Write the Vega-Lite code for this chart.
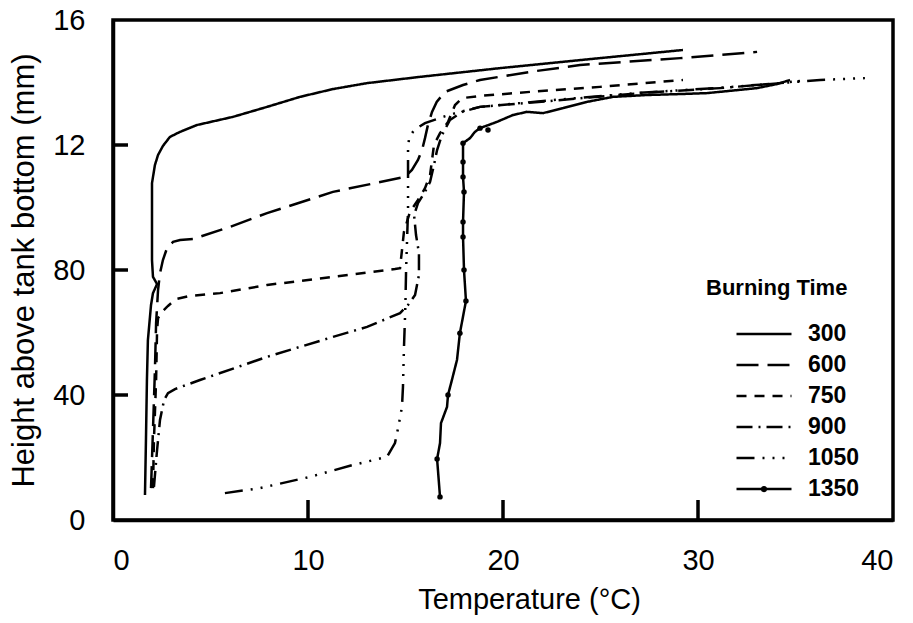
{
  "$schema": "https://vega.github.io/schema/vega-lite/v6.json",
  "width": 780,
  "height": 500,
  "autosize": "none",
  "padding": {"left": 113, "top": 20, "right": 20, "bottom": 103},
  "background": "white",
  "config": {
    "view": {"stroke": "black", "strokeWidth": 3.5},
    "font": "Liberation Sans",
    "axis": {
      "grid": false,
      "ticks": false,
      "domainColor": "black",
      "domainWidth": 3.5,
      "labelColor": "black",
      "titleColor": "black",
      "labelFont": "Liberation Sans",
      "titleFont": "Liberation Sans",
      "labelFontSize": 29,
      "titleFontSize": 29,
      "titleFontWeight": "normal"
    }
  },
  "datasets": {
    "curves": [
      {"time":"300","temp":1.64,"height":8.0},{"time":"300","temp":1.69,"height":25.6},{"time":"300","temp":1.74,"height":44.8},{"time":"300","temp":1.79,"height":57.6},{"time":"300","temp":1.95,"height":68.8},{"time":"300","temp":2.05,"height":72.6},{"time":"300","temp":2.26,"height":75.5},{"time":"300","temp":2.05,"height":77.8},{"time":"300","temp":2.0,"height":83.2},{"time":"300","temp":2.0,"height":96.0},{"time":"300","temp":2.0,"height":107.8},{"time":"300","temp":2.15,"height":113.6},{"time":"300","temp":2.31,"height":116.8},{"time":"300","temp":2.56,"height":119.7},{"time":"300","temp":2.92,"height":122.6},{"time":"300","temp":3.44,"height":124.2},{"time":"300","temp":4.31,"height":126.4},{"time":"300","temp":6.15,"height":129.0},{"time":"300","temp":7.9,"height":132.2},{"time":"300","temp":9.59,"height":135.4},{"time":"300","temp":11.28,"height":137.9},{"time":"300","temp":13.03,"height":139.8},{"time":"300","temp":15.74,"height":141.8},{"time":"300","temp":19.85,"height":144.6},{"time":"300","temp":24.97,"height":147.8},{"time":"300","temp":29.23,"height":150.4},
      {"time":"600","temp":1.95,"height":10.2},{"time":"600","temp":2.05,"height":28.8},{"time":"600","temp":2.15,"height":48},{"time":"600","temp":2.21,"height":63},{"time":"600","temp":2.31,"height":73.6},{"time":"600","temp":2.41,"height":79},{"time":"600","temp":2.56,"height":83.2},{"time":"600","temp":2.77,"height":87},{"time":"600","temp":3.08,"height":89},{"time":"600","temp":3.44,"height":89.6},{"time":"600","temp":4.1,"height":89.9},{"time":"600","temp":6.0,"height":93.8},{"time":"600","temp":7.9,"height":98.2},{"time":"600","temp":11.28,"height":105},{"time":"600","temp":14.97,"height":109.8},{"time":"600","temp":15.33,"height":112},{"time":"600","temp":15.64,"height":115.2},{"time":"600","temp":15.85,"height":118.4},{"time":"600","temp":16.0,"height":122.2},{"time":"600","temp":16.15,"height":126.4},{"time":"600","temp":16.36,"height":130.6},{"time":"600","temp":16.6,"height":133.8},{"time":"600","temp":17.03,"height":137},{"time":"600","temp":17.95,"height":139.2},{"time":"600","temp":18.82,"height":140.8},{"time":"600","temp":21.38,"height":143.4},{"time":"600","temp":23.95,"height":145.6},{"time":"600","temp":29.08,"height":147.8},{"time":"600","temp":33.03,"height":149.8},
      {"time":"750","temp":2.05,"height":10.2},{"time":"750","temp":2.1,"height":25.6},{"time":"750","temp":2.21,"height":44.8},{"time":"750","temp":2.26,"height":60.8},{"time":"750","temp":2.31,"height":64.6},{"time":"750","temp":2.51,"height":66.6},{"time":"750","temp":2.82,"height":68.5},{"time":"750","temp":3.23,"height":70.7},{"time":"750","temp":3.95,"height":71.7},{"time":"750","temp":5.49,"height":72.6},{"time":"750","temp":7.9,"height":75.2},{"time":"750","temp":11.28,"height":77.8},{"time":"750","temp":14.46,"height":80.3},{"time":"750","temp":14.72,"height":80.6},{"time":"750","temp":14.82,"height":86.4},{"time":"750","temp":14.92,"height":92.2},{"time":"750","temp":15.23,"height":98.6},{"time":"750","temp":15.64,"height":102.4},{"time":"750","temp":16.0,"height":106.2},{"time":"750","temp":16.26,"height":110.4},{"time":"750","temp":16.36,"height":115.2},{"time":"750","temp":16.46,"height":120},{"time":"750","temp":16.77,"height":123.8},{"time":"750","temp":17.18,"height":127.4},{"time":"750","temp":17.54,"height":132.8},{"time":"750","temp":17.9,"height":135},{"time":"750","temp":18.82,"height":135.7},{"time":"750","temp":21.38,"height":137},{"time":"750","temp":24.97,"height":138.6},{"time":"750","temp":29.23,"height":140.8},
      {"time":"900","temp":2.1,"height":10.6},{"time":"900","temp":2.26,"height":22.4},{"time":"900","temp":2.41,"height":32},{"time":"900","temp":2.62,"height":38.4},{"time":"900","temp":2.82,"height":40.6},{"time":"900","temp":3.18,"height":41.9},{"time":"900","temp":4.46,"height":44.8},{"time":"900","temp":7.9,"height":52.2},{"time":"900","temp":11.28,"height":58.6},{"time":"900","temp":13.03,"height":61.8},{"time":"900","temp":14.72,"height":66.2},{"time":"900","temp":15.13,"height":68.8},{"time":"900","temp":15.49,"height":72},{"time":"900","temp":15.69,"height":78.4},{"time":"900","temp":15.69,"height":85.4},{"time":"900","temp":15.54,"height":91.2},{"time":"900","temp":15.44,"height":97.6},{"time":"900","temp":15.64,"height":101.4},{"time":"900","temp":16.0,"height":105},{"time":"900","temp":16.26,"height":108.2},{"time":"900","temp":16.46,"height":113.6},{"time":"900","temp":16.62,"height":118.4},{"time":"900","temp":16.87,"height":123.2},{"time":"900","temp":17.28,"height":128},{"time":"900","temp":17.9,"height":130.6},{"time":"900","temp":18.82,"height":132.2},{"time":"900","temp":22.41,"height":134.1},{"time":"900","temp":27.03,"height":136.6},{"time":"900","temp":31.13,"height":138.2},{"time":"900","temp":34.21,"height":139.8},{"time":"900","temp":35.23,"height":140.5},
      {"time":"1050","temp":5.74,"height":8.6},{"time":"1050","temp":7.54,"height":10.2},{"time":"1050","temp":10.1,"height":13.8},{"time":"1050","temp":12.3,"height":17.6},{"time":"1050","temp":14.05,"height":20.2},{"time":"1050","temp":14.46,"height":24.6},{"time":"1050","temp":14.62,"height":29.4},{"time":"1050","temp":14.82,"height":36.2},{"time":"1050","temp":14.87,"height":42.6},{"time":"1050","temp":14.92,"height":55},{"time":"1050","temp":14.97,"height":64},{"time":"1050","temp":15.0,"height":70.4},{"time":"1050","temp":15.03,"height":80},{"time":"1050","temp":15.08,"height":89.6},{"time":"1050","temp":15.13,"height":99.2},{"time":"1050","temp":15.13,"height":108.8},{"time":"1050","temp":15.13,"height":118.4},{"time":"1050","temp":15.18,"height":122.2},{"time":"1050","temp":15.44,"height":124.8},{"time":"1050","temp":16.0,"height":127},{"time":"1050","temp":16.92,"height":129},{"time":"1050","temp":17.79,"height":130.6},{"time":"1050","temp":18.82,"height":132.2},{"time":"1050","temp":22.41,"height":134.3},{"time":"1050","temp":27.03,"height":136.7},{"time":"1050","temp":31.13,"height":138.3},{"time":"1050","temp":34.21,"height":139.8},{"time":"1050","temp":36.26,"height":140.8},{"time":"1050","temp":38.56,"height":141.4},
      {"time":"1350","temp":16.77,"height":7.4},{"time":"1350","temp":16.62,"height":19.5},{"time":"1350","temp":16.77,"height":24.6},{"time":"1350","temp":16.82,"height":31},{"time":"1350","temp":17.13,"height":36.2},{"time":"1350","temp":17.18,"height":40},{"time":"1350","temp":17.38,"height":44.8},{"time":"1350","temp":17.64,"height":51.2},{"time":"1350","temp":17.79,"height":59.8},{"time":"1350","temp":18.1,"height":70.1},{"time":"1350","temp":18.0,"height":80},{"time":"1350","temp":17.95,"height":90.6},{"time":"1350","temp":17.95,"height":95.4},{"time":"1350","temp":18.0,"height":105},{"time":"1350","temp":17.95,"height":109.8},{"time":"1350","temp":17.95,"height":114.6},{"time":"1350","temp":17.95,"height":120.6},{"time":"1350","temp":18.31,"height":122.2},{"time":"1350","temp":18.56,"height":124.2},{"time":"1350","temp":18.82,"height":125.4},{"time":"1350","temp":19.69,"height":127.4},{"time":"1350","temp":20.51,"height":129.6},{"time":"1350","temp":21.23,"height":130.6},{"time":"1350","temp":22.05,"height":130.2},{"time":"1350","temp":23.08,"height":131.8},{"time":"1350","temp":24.31,"height":133.8},{"time":"1350","temp":25.64,"height":135.4},{"time":"1350","temp":27.38,"height":136},{"time":"1350","temp":29.08,"height":136.3},{"time":"1350","temp":30.46,"height":136.6},{"time":"1350","temp":33.03,"height":138.2},{"time":"1350","temp":34.05,"height":139.5},{"time":"1350","temp":34.72,"height":140.8}
    ],
    "dots": [
      {"temp":16.77,"height":7.4},{"temp":16.62,"height":19.5},{"temp":17.18,"height":40},{"temp":17.79,"height":59.8},{"temp":18.1,"height":70.1},{"temp":18.0,"height":80},{"temp":17.95,"height":90.6},{"temp":17.95,"height":95.4},{"temp":18.0,"height":105},{"temp":17.95,"height":109.8},{"temp":17.95,"height":114.6},{"temp":17.95,"height":120.6},{"temp":18.82,"height":125.4},{"temp":19.23,"height":124.8}
    ],
    "xticks": [{"temp": 10}, {"temp": 20}, {"temp": 30}],
    "yticks": [{"height": 40}, {"height": 80}, {"height": 120}]
  },
  "layer": [
    {
      "data": {"name": "curves"},
      "mark": {"type": "line", "strokeWidth": 2.5, "color": "black", "interpolate": "linear"},
      "encoding": {
        "x": {
          "field": "temp", "type": "quantitative",
          "scale": {"domain": [0, 40], "nice": false},
          "axis": {"values": [0, 10, 20, 30, 40], "labelPadding": 26, "title": "Temperature (°C)", "titlePadding": 10, "titleX": 416}
        },
        "y": {
          "field": "height", "type": "quantitative",
          "scale": {"domain": [0, 160], "nice": false},
          "axis": {"values": [0, 40, 80, 120, 160], "labelPadding": 28, "labelExpr": "datum.value == 120 ? '12' : datum.value == 160 ? '16' : datum.label", "title": "Height above tank bottom (mm)", "titleFontSize": 31, "titlePadding": 12}
        },
        "strokeDash": {
          "field": "time", "type": "nominal",
          "scale": {"domain": ["300", "600", "750", "900", "1050", "1350"], "range": [[1, 0], [22, 9], [10, 8], [16, 6, 2, 6], [18, 8, 2, 8, 2, 8, 2, 8], [1, 0]]},
          "legend": {
            "title": "Burning Time",
            "orient": "none",
            "legendX": 593,
            "legendY": 258,
            "padding": 0,
            "titleFont": "Liberation Sans",
            "titleFontSize": 22,
            "titleFontWeight": "bold",
            "titleColor": "black",
            "titlePadding": 19,
            "labelFont": "Liberation Sans",
            "labelFontSize": 23,
            "labelFontWeight": "bold",
            "labelColor": "black",
            "labelOffset": 15,
            "symbolType": "stroke",
            "symbolSize": 3025,
            "symbolStrokeWidth": 2.5,
            "symbolStrokeColor": "black",
            "symbolOffset": 29,
            "clipHeight": 30.2,
            "rowPadding": 0,
            "encode": {
              "symbols": {
                "update": {
                  "shape": {"signal": "datum.value === '1350' ? 'M-1,0H1M-0.07,0a0.07,0.07 0 1,0 0.14,0a0.07,0.07 0 1,0 -0.14,0' : 'stroke'"}
                }
              }
            }
          }
        },
        "order": {"value": null}
      }
    },
    {
      "data": {"name": "dots"},
      "mark": {"type": "point", "filled": true, "color": "black", "size": 30, "opacity": 1},
      "encoding": {
        "x": {"field": "temp", "type": "quantitative"},
        "y": {"field": "height", "type": "quantitative"}
      }
    },
    {
      "data": {"name": "xticks"},
      "mark": {"type": "rule", "strokeWidth": 3.5, "color": "black"},
      "encoding": {
        "x": {"field": "temp", "type": "quantitative"},
        "y": {"datum": 0},
        "y2": {"datum": 6.4}
      }
    },
    {
      "data": {"name": "yticks"},
      "mark": {"type": "rule", "strokeWidth": 3.5, "color": "black"},
      "encoding": {
        "y": {"field": "height", "type": "quantitative"},
        "x": {"datum": 0},
        "x2": {"datum": 0.77}
      }
    }
  ]
}
